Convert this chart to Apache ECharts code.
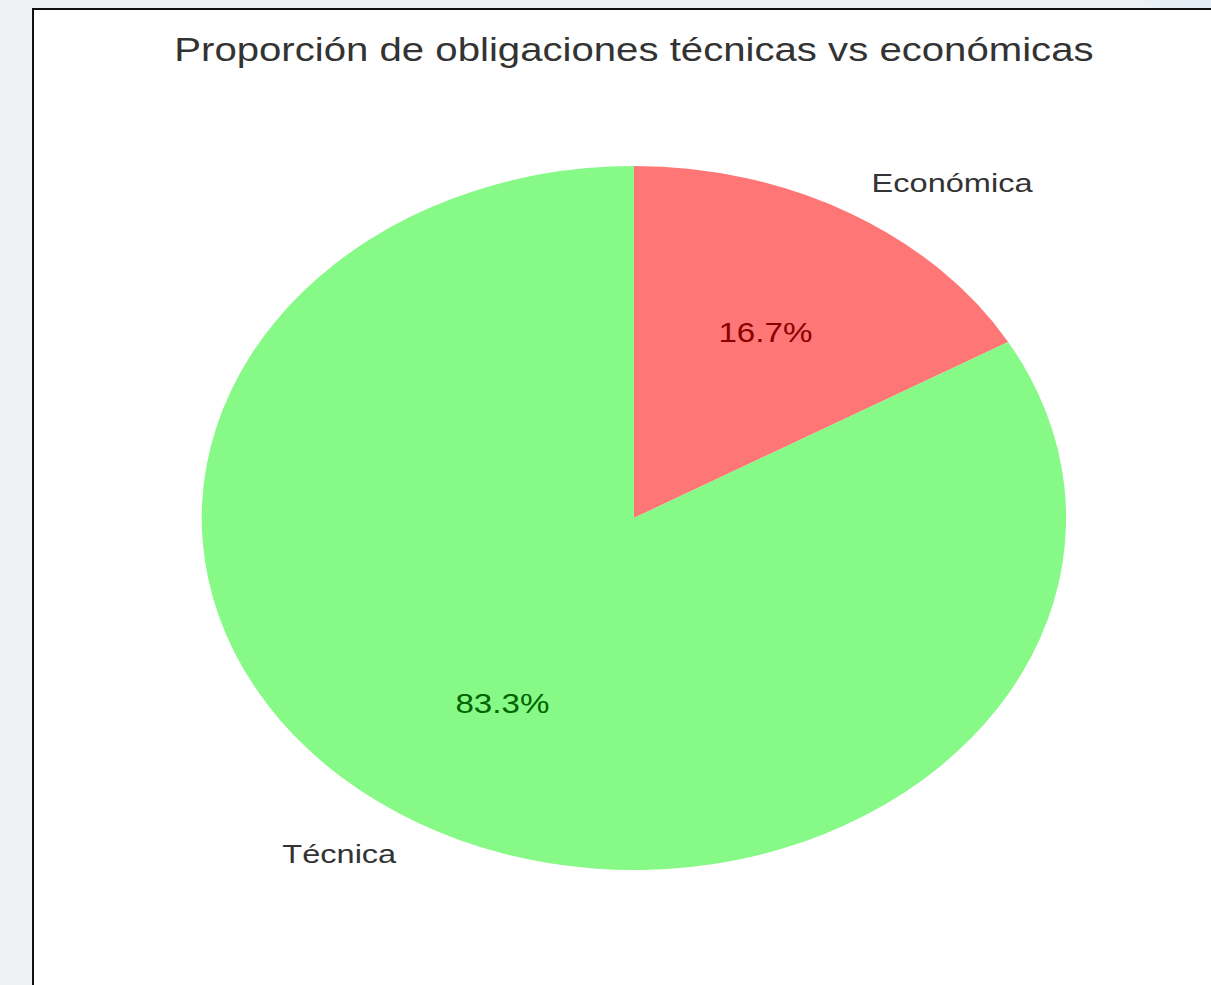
<!DOCTYPE html>
<html>
<head>
<meta charset="utf-8">
<script src="https://cdn.jsdelivr.net/npm/echarts@6/dist/echarts.min.js"></script>
<style>
  html, body { margin: 0; padding: 0; width: 1211px; height: 985px; overflow: hidden; background: #eef1f4; position: relative; }
  #frame { position: absolute; left: 32px; top: 8px; width: 1300px; height: 1100px; background: #ffffff; border: 2px solid #111; box-sizing: border-box; }
  #deco { position: absolute; left: 1130px; top: -60px; width: 160px; height: 80px; border-radius: 50%; background: radial-gradient(ellipse at center, #dbe9f3 0%, #e6eff6 60%, rgba(238,241,244,0) 100%); }
  #chart { position: absolute; left: 0; top: 0; transform-origin: 0 0; }
</style>
</head>
<body>
<div id="deco"></div>
<div id="frame"></div>
<div id="chart"></div>
<script>
// ---- data ----
const categories = ['Económica', 'Técnica'];
const values = [1, 5];
const titleText = 'Proporción de obligaciones técnicas vs económicas';
const sliceColors = ['#ff7676', '#87f987'];
const pctColors = ['#8b0000', '#006400'];

// ---- layout (screenshot is horizontally stretched) ----
const S = 1.2278;          // horizontal stretch factor
const R = 352;             // pie radius (unstretched px)
const CX = 516.3, CY = 518;
const W = CX * 2, H = 985;

const el = document.getElementById('chart');
el.style.width = W + 'px';
el.style.height = H + 'px';
el.style.transform = 'scaleX(' + S + ')';

const chart = echarts.init(el, null, { renderer: 'svg', width: W, height: H });

const mainData = categories.map((c, i) => ({ name: c, value: values[i], itemStyle: { color: sliceColors[i] } }));
const pctData = categories.map((c, i) => ({ name: c, value: values[i], label: { color: pctColors[i] } }));

chart.setOption({
  animation: false,
  backgroundColor: 'transparent',
  title: {
    text: titleText,
    left: 'center',
    top: 33.5,
    padding: 0,
    textStyle: { fontFamily: 'Liberation Sans, Arial, sans-serif', fontSize: 32.7, fontWeight: 'normal', color: '#333' }
  },
  series: [
    {
      type: 'pie',
      center: [CX, CY],
      radius: [0, R],
      startAngle: 90,
      clockwise: true,
      avoidLabelOverlap: false,
      silent: true,
      itemStyle: { borderWidth: 0 },
      label: {
        show: true,
        position: 'outside',
        formatter: '{b}',
        fontFamily: 'Liberation Sans, Arial, sans-serif',
        fontSize: 26.5,
        color: '#333',
        distanceToLabelLine: 0
      },
      labelLine: { show: false, length: R * 0.1, length2: 0 },
      data: mainData
    },
    {
      type: 'pie',
      center: [CX, CY],
      radius: [R * 0.2, R],
      startAngle: 90,
      clockwise: true,
      silent: true,
      percentPrecision: 1,
      itemStyle: { color: 'rgba(0,0,0,0)', borderWidth: 0 },
      label: {
        show: true,
        position: 'inside',
        formatter: '{d}%',
        fontFamily: 'Liberation Sans, Arial, sans-serif',
        fontSize: 27
      },
      labelLine: { show: false },
      data: pctData
    }
  ]
});
</script>
</body>
</html>
